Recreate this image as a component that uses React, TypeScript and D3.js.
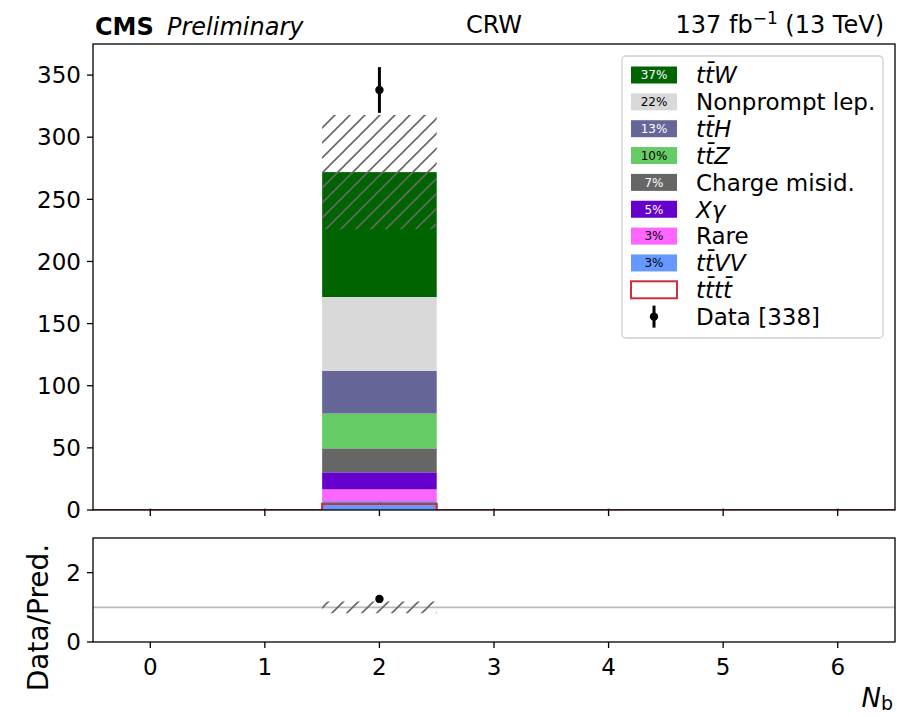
import React from "react";
import * as d3 from "d3";

// Bin centres of the N_b distribution
const bins = [0, 1, 2, 3, 4, 5, 6];

// Background processes, listed from top of the stack to bottom (legend order)
const procNames = ["ttW", "Nonprompt lep.", "ttH", "ttZ", "Charge misid.", "Xγ", "Rare", "ttVV"];
const procColors = ["#006400", "#d9d9d9", "#666699", "#66cc66", "#666666", "#6600cc", "#ff66ff", "#6699ff"];
const procItalic = [true, false, true, true, false, true, false, true];

const ttW = [0, 0, 100.5, 0, 0, 0, 0];
const nonprompt = [0, 0, 59.5, 0, 0, 0, 0];
const ttH = [0, 0, 34.3, 0, 0, 0, 0];
const ttZ = [0, 0, 28.0, 0, 0, 0, 0];
const chargeMisid = [0, 0, 19.3, 0, 0, 0, 0];
const xGamma = [0, 0, 13.7, 0, 0, 0, 0];
const rare = [0, 0, 9.4, 0, 0, 0, 0];
const ttVV = [0, 0, 7.2, 0, 0, 0, 0];
const procValues = [ttW, nonprompt, ttH, ttZ, chargeMisid, xGamma, rare, ttVV];

// Signal (drawn as an outline, not stacked)
const tttt = [0, 0, 5.0, 0, 0, 0, 0];
const ttttErr = [1.2, 1.2, 1.0, 1.2, 1.2, 1.2, 1.2];

// Total prediction uncertainty (absolute)
const totalUnc = [0, 0, 46, 0, 0, 0, 0];

// Observed data
const dataCounts = [0, 0, 338, 0, 0, 0, 0];

const mainYTicks = [0, 50, 100, 150, 200, 250, 300, 350];
const ratioYTicks = [0, 2];
const xTicks = [0, 1, 2, 3, 4, 5, 6];

const W = 897;
const H = 717;
const left = 93;
const right = 895;
const mainTop = 44;
const mainBottom = 510;
const ratioTop = 538;
const ratioBottom = 642;
const FONT = "DejaVu Sans, Liberation Sans, sans-serif";

const x = d3.scaleLinear().domain([-0.5, 6.5]).range([left, right]);
const y = d3.scaleLinear().domain([0, 375]).range([mainBottom, mainTop]);
const yr = d3.scaleLinear().domain([0, 3]).range([ratioBottom, ratioTop]);

function isDark(c: string) {
  const rgb = d3.rgb(c);
  return 0.299 * rgb.r + 0.587 * rgb.g + 0.114 * rgb.b < 140;
}

// Physics-style labels with a bar over anti-top quarks
function ProcLabel({ name }: { name: string }) {
  const bar = "t\u0304";
  const map: Record<string, string> = {
    ttW: "t" + bar + "W",
    ttH: "t" + bar + "H",
    ttZ: "t" + bar + "Z",
    ttVV: "t" + bar + "VV",
    tttt: "t" + bar + "t" + bar,
  };
  return <>{map[name] ?? name}</>;
}

export default function App() {
  const totals = bins.map((_, i) => d3.sum(procValues, (v) => v[i]));
  const grand = d3.sum(totals);
  const pct = procValues.map((v) => Math.round((d3.sum(v) / grand) * 100));

  // stack bottom-up: reverse of legend order
  const stackOrder = procValues.map((_, k) => procValues.length - 1 - k);
  const tableRows = bins.map((b, i) => {
    const row: Record<string, number> = { bin: b };
    procNames.forEach((n, k) => (row[n] = procValues[k][i]));
    return row;
  });
  const stack = d3.stack<Record<string, number>>().keys(stackOrder.map((k) => procNames[k]));
  const series = stack(tableRows);

  const bw = x(0.5) - x(0);

  // tttt step outline
  const stepPts: [number, number][] = [];
  bins.forEach((b, i) => {
    stepPts.push([b - 0.5, tttt[i]]);
    stepPts.push([b + 0.5, tttt[i]]);
  });
  const stepLine = d3
    .line<[number, number]>()
    .x((d) => x(d[0]))
    .y((d) => y(d[1]))
    .curve(d3.curveLinear);

  const legendRows = [
    ...procNames.map((n, k) => ({ kind: "proc", k, name: n })),
    { kind: "tttt", k: -1, name: "tttt" },
    { kind: "data", k: -1, name: `Data [${d3.sum(dataCounts)}]` },
  ];
  const legX = 622;
  const legY = 56;
  const legW = 261;
  const legH = 282;
  const rowY0 = 75;
  const rowDy = 26.85;

  return (
    <svg
      width={W}
      height={H}
      viewBox={`0 0 ${W} ${H}`}
      style={{ position: "absolute", left: 0, top: 0, background: "#fff" }}
      fontFamily={FONT}
    >
      <defs>
        <pattern id="hatch" patternUnits="userSpaceOnUse" width={15} height={15}>
          <line x1={-2} y1={17} x2={17} y2={-2} stroke="#666" strokeWidth={1.6} />
          <line x1={-2} y1={2} x2={2} y2={-2} stroke="#666" strokeWidth={1.6} />
          <line x1={13} y1={17} x2={17} y2={13} stroke="#666" strokeWidth={1.6} />
        </pattern>
        <clipPath id="mainClip">
          <rect x={left} y={mainTop} width={right - left} height={mainBottom - mainTop} />
        </clipPath>
        <clipPath id="ratioClip">
          <rect x={left} y={ratioTop} width={right - left} height={ratioBottom - ratioTop} />
        </clipPath>
      </defs>

      {/* Header */}
      <text x={95} y={35} fontSize={24} fontWeight="bold">
        CMS
      </text>
      <text x={167} y={35} fontSize={24} fontStyle="italic">
        Preliminary
      </text>
      <text x={(left + right) / 2} y={33} fontSize={24} textAnchor="middle">
        CRW
      </text>
      <text x={884} y={33} fontSize={24} textAnchor="end">
        137 fb
        <tspan dy={-9} fontSize={17}>
          −1
        </tspan>
        <tspan dy={9}> (13 TeV)</tspan>
      </text>

      {/* Main panel */}
      <g clipPath="url(#mainClip)">
        {series.map((s) => {
          const k = procNames.indexOf(s.key);
          return (
            <g key={s.key}>
              {s.map((d, i) =>
                d[1] - d[0] > 0 ? (
                  <rect
                    key={i}
                    x={x(bins[i] - 0.5)}
                    width={bw * 2}
                    y={y(d[1])}
                    height={y(d[0]) - y(d[1])}
                    fill={procColors[k]}
                  />
                ) : null
              )}
            </g>
          );
        })}
        {/* prediction uncertainty */}
        {bins.map((b, i) =>
          totalUnc[i] > 0 ? (
            <rect
              key={i}
              x={x(b - 0.5)}
              width={bw * 2}
              y={y(totals[i] + totalUnc[i])}
              height={y(totals[i] - totalUnc[i]) - y(totals[i] + totalUnc[i])}
              fill="url(#hatch)"
            />
          ) : null
        )}
        {/* tttt outline */}
        <path d={stepLine(stepPts) ?? ""} fill="none" stroke="#c7323f" strokeWidth={2.2} />
        {bins.map((b, i) => (
          <line
            key={i}
            x1={x(b)}
            x2={x(b)}
            y1={y(Math.max(0, tttt[i] - ttttErr[i]))}
            y2={y(tttt[i] + ttttErr[i])}
            stroke="#c7323f"
            strokeWidth={2}
          />
        ))}
      </g>
      {/* Data */}
      {bins.map((b, i) =>
        dataCounts[i] > 0 ? (
          <g key={i}>
            <line
              x1={x(b)}
              x2={x(b)}
              y1={y(dataCounts[i] - Math.sqrt(dataCounts[i]))}
              y2={y(dataCounts[i] + Math.sqrt(dataCounts[i]))}
              stroke="#000"
              strokeWidth={3}
            />
            <circle cx={x(b)} cy={y(dataCounts[i])} r={4.2} fill="#000" />
          </g>
        ) : null
      )}

      {/* Main frame and axes */}
      <rect x={left} y={mainTop} width={right - left} height={mainBottom - mainTop} fill="none" stroke="#000" strokeWidth={1.3} />
      {mainYTicks.map((t) => (
        <g key={t}>
          <line x1={left - 6} x2={left} y1={y(t)} y2={y(t)} stroke="#000" strokeWidth={1.3} />
          <text x={left - 12} y={y(t)} dy="0.36em" textAnchor="end" fontSize={23}>
            {t}
          </text>
        </g>
      ))}
      {xTicks.map((t) => (
        <line key={t} x1={x(t)} x2={x(t)} y1={mainBottom} y2={mainBottom + 6} stroke="#000" strokeWidth={1.3} />
      ))}

      {/* Legend */}
      <rect x={legX} y={legY} width={legW} height={legH} rx={4} fill="#fff" fillOpacity={0.85} stroke="#d0d0d0" strokeWidth={1.3} />
      {legendRows.map((r, j) => {
        const cy = rowY0 + j * rowDy;
        const px = 631;
        const pw = 46;
        const ph = 17;
        let marker: React.ReactNode = null;
        let italic = false;
        if (r.kind === "proc") {
          const c = procColors[r.k];
          italic = procItalic[r.k];
          marker = (
            <g>
              <rect x={px} y={cy - ph / 2} width={pw} height={ph} fill={c} />
              <text x={px + pw / 2} y={cy} dy="0.36em" textAnchor="middle" fontSize={12} fill={isDark(c) ? "#fff" : "#000"}>
                {pct[r.k]}%
              </text>
            </g>
          );
        } else if (r.kind === "tttt") {
          italic = true;
          marker = <rect x={px} y={cy - ph / 2} width={pw} height={ph} fill="#fff" stroke="#c7323f" strokeWidth={2} />;
        } else {
          marker = (
            <g>
              <line x1={px + pw / 2} x2={px + pw / 2} y1={cy - 11} y2={cy + 11} stroke="#000" strokeWidth={3} />
              <circle cx={px + pw / 2} cy={cy} r={4.2} fill="#000" />
            </g>
          );
        }
        return (
          <g key={j}>
            {marker}
            <text x={696} y={cy} dy="0.36em" fontSize={23} fontStyle={italic ? "italic" : "normal"}>
              <ProcLabel name={r.name} />
            </text>
          </g>
        );
      })}

      {/* Ratio panel */}
      <line x1={left} x2={right} y1={yr(1)} y2={yr(1)} stroke="#bbb" strokeWidth={1.8} />
      <g clipPath="url(#ratioClip)">
        {bins.map((b, i) =>
          totalUnc[i] > 0 ? (
            <rect
              key={i}
              x={x(b - 0.5)}
              width={bw * 2}
              y={yr(1 + totalUnc[i] / totals[i])}
              height={yr(1 - totalUnc[i] / totals[i]) - yr(1 + totalUnc[i] / totals[i])}
              fill="url(#hatch)"
            />
          ) : null
        )}
        {bins.map((b, i) =>
          dataCounts[i] > 0 ? (
            <g key={i}>
              <line
                x1={x(b)}
                x2={x(b)}
                y1={yr((dataCounts[i] - Math.sqrt(dataCounts[i])) / totals[i])}
                y2={yr((dataCounts[i] + Math.sqrt(dataCounts[i])) / totals[i])}
                stroke="#000"
                strokeWidth={2}
              />
              <circle cx={x(b)} cy={yr(dataCounts[i] / totals[i])} r={4.2} fill="#000" />
            </g>
          ) : null
        )}
      </g>
      <rect x={left} y={ratioTop} width={right - left} height={ratioBottom - ratioTop} fill="none" stroke="#000" strokeWidth={1.3} />
      {ratioYTicks.map((t) => (
        <g key={t}>
          <line x1={left - 6} x2={left} y1={yr(t)} y2={yr(t)} stroke="#000" strokeWidth={1.3} />
          <text x={left - 12} y={yr(t)} dy="0.36em" textAnchor="end" fontSize={23}>
            {t}
          </text>
        </g>
      ))}
      {xTicks.map((t) => (
        <g key={t}>
          <line x1={x(t)} x2={x(t)} y1={ratioBottom} y2={ratioBottom + 6} stroke="#000" strokeWidth={1.3} />
          <text x={x(t)} y={675} textAnchor="middle" fontSize={23}>
            {t}
          </text>
        </g>
      ))}
      <text transform={`translate(48, ${(540 + 695) / 2}) rotate(-90)`} textAnchor="middle" fontSize={28}>
        Data/Pred.
      </text>
      <text x={893} y={707} textAnchor="end" fontSize={26}>
        <tspan fontStyle="italic">N</tspan>
        <tspan fontSize={19} dy={3}>
          b
        </tspan>
      </text>
    </svg>
  );
}
